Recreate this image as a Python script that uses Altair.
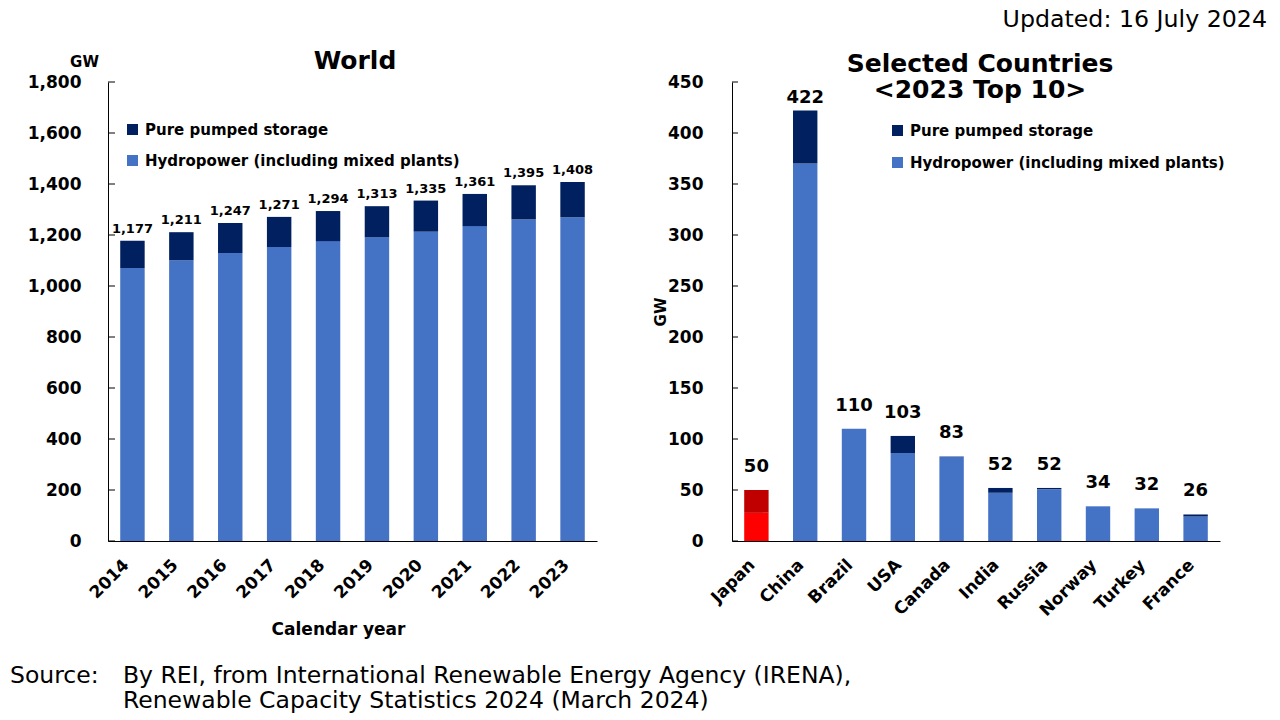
import altair as alt
import pandas as pd

FONT = "DejaVu Sans"

# ---------------- data ----------------
years = ["2014", "2015", "2016", "2017", "2018", "2019", "2020", "2021", "2022", "2023"]
world_hydro = [1071, 1101, 1129, 1153, 1176, 1191, 1213, 1235, 1261, 1270]
world_pumped = [106, 110, 118, 118, 118, 122, 122, 126, 134, 138]
world_total = [1177, 1211, 1247, 1271, 1294, 1313, 1335, 1361, 1395, 1408]

countries = ["Japan", "China", "Brazil", "USA", "Canada", "India", "Russia", "Norway", "Turkey", "France"]
country_hydro = [27.6, 370, 110, 86.3, 82.7, 47.3, 50.8, 34, 32, 24]
country_pumped = [22.4, 52, 0.03, 16.7, 0.3, 4.7, 1.2, 0, 0, 2]
country_total = [50, 422, 110, 103, 83, 52, 52, 34, 32, 26]

world_ticks = [0, 200, 400, 600, 800, 1000, 1200, 1400, 1600, 1800]
country_ticks = [0, 50, 100, 150, 200, 250, 300, 350, 400, 450]

PUMP = "Pure pumped storage"
HYDRO = "Hydropower (including mixed plants)"
JP_PUMP = "Japan pumped"
JP_HYDRO = "Japan hydro"

LEFT_TITLE = "World"
RIGHT_TITLE = ["Selected Countries", "<2023 Top 10>"]
UPDATED = "Updated: 16 July 2024"
SOURCE_HEAD = "Source:"
SOURCE_LINES = ["By REI, from International Renewable Energy Agency (IRENA),",
                "Renewable Capacity Statistics 2024 (March 2024)"]

# ---------------- tables ----------------
wrows = []
for y, h, p in zip(years, world_hydro, world_pumped):
    wrows.append({"year": y, "key": HYDRO, "ord": 0, "value": h})
    wrows.append({"year": y, "key": PUMP, "ord": 1, "value": p})
world_df = pd.DataFrame(wrows)
world_tot = pd.DataFrame({"year": years, "total": world_total})

crows = []
for c, h, p in zip(countries, country_hydro, country_pumped):
    crows.append({"country": c, "key": JP_HYDRO if c == "Japan" else HYDRO, "ord": 0, "value": h})
    crows.append({"country": c, "key": JP_PUMP if c == "Japan" else PUMP, "ord": 1, "value": p})
country_df = pd.DataFrame(crows)
country_tot = pd.DataFrame({"country": countries, "total": country_total})

one = pd.DataFrame({"_": [0]})

NAVY = "#002060"
BLUE = "#4472C4"

# ---------------- left panel ----------------
LW, H = 489, 459

wxaxis = alt.Axis(title="Calendar year", labelAngle=-45, labelAlign="right",
                  labelBaseline="middle", labelPadding=21, labelOffset=-6, labelFontSize=17,
                  titleFontSize=17, titleX=230, titleY=88, titleBaseline="middle",
                  titleAlign="center")
wxscale = alt.Scale(paddingInner=0.5, paddingOuter=0.25)
wyaxis = alt.Axis(values=world_ticks, labelExpr="format(datum.value, ',')",
                  labelFontSize=17, labelPadding=27,
                  title="GW", titleAngle=0, titleX=-24, titleY=-21,
                  titleAlign="center", titleBaseline="middle", titleFontSize=15)
wscale = alt.Scale(domain=[0, 1800], nice=False)

left_bars = alt.Chart(world_df).mark_bar().encode(
    x=alt.X("year:N", sort=years, scale=wxscale, axis=wxaxis),
    y=alt.Y("value:Q", stack="zero", scale=wscale, axis=wyaxis),
    color=alt.Color("key:N", scale=alt.Scale(domain=[PUMP, HYDRO], range=[NAVY, BLUE]),
                    legend=alt.Legend(title=None, orient="none", legendX=17, legendY=40,
                                      values=[PUMP, HYDRO], symbolType="square",
                                      symbolSize=121, symbolStrokeWidth=0,
                                      labelFont=FONT, labelFontSize=15, labelFontWeight="bold",
                                      labelColor="black", labelLimit=600, rowPadding=15,
                                      labelOffset=5, padding=0, direction="vertical")),
    order=alt.Order("ord:Q", sort="ascending"),
)

left_labels = alt.Chart(world_tot).mark_text(
    dy=-8, baseline="alphabetic", fontSize=13, fontWeight="bold", font=FONT, color="black"
).encode(
    x=alt.X("year:N", sort=years, scale=wxscale, axis=wxaxis),
    y=alt.Y("total:Q", scale=wscale, axis=wyaxis),
    text=alt.Text("total:Q", format=","),
)

left_ticks = alt.Chart(pd.DataFrame({"v": world_ticks})).mark_rule(color="black", strokeWidth=1).encode(
    y=alt.Y("v:Q", scale=wscale, axis=wyaxis), x=alt.value(0), x2=alt.value(7)
)

left_title = alt.Chart(one).mark_text(
    font=FONT, fontSize=25, fontWeight="bold", align="center", baseline="alphabetic", color="black"
).encode(x=alt.value(247), y=alt.value(-13), text=alt.value(LEFT_TITLE))

src_head = alt.Chart(one).mark_text(
    font=FONT, fontSize=23.5, align="left", baseline="alphabetic", color="black"
).encode(x=alt.value(-98), y=alt.value(601), text=alt.value(SOURCE_HEAD))

src_body = alt.Chart(one).mark_text(
    font=FONT, fontSize=23.5, align="left", baseline="alphabetic", color="black", lineHeight=25
).encode(x=alt.value(15), y=alt.value(601), text=alt.value(SOURCE_LINES))

left = alt.layer(left_bars, left_labels, left_ticks, left_title, src_head, src_body).properties(
    width=LW, height=H)

# ---------------- right panel ----------------
RW = 488
cscale = alt.Scale(domain=[0, 450], nice=False)
cxscale = alt.Scale(paddingInner=0.5, paddingOuter=0.25)
cxaxis = alt.Axis(title=None, labelAngle=-45, labelAlign="right",
                  labelBaseline="middle", labelPadding=21, labelOffset=-4, labelFontSize=17)
cyaxis = alt.Axis(values=country_ticks, labelExpr="format(datum.value, ',')",
                  labelFontSize=17, labelPadding=29,
                  title="GW", titleAngle=270, titleX=-72, titleY=229.5,
                  titleAlign="center", titleBaseline="middle", titleFontSize=15)

right_bars = alt.Chart(country_df).mark_bar().encode(
    x=alt.X("country:N", sort=countries, scale=cxscale, axis=cxaxis),
    y=alt.Y("value:Q", stack="zero", scale=cscale, axis=cyaxis),
    color=alt.Color("key:N",
                    scale=alt.Scale(domain=[PUMP, HYDRO, JP_PUMP, JP_HYDRO],
                                    range=[NAVY, BLUE, "#C00000", "#FF0000"]),
                    legend=alt.Legend(title=None, orient="none", legendX=158, legendY=41,
                                      values=[PUMP, HYDRO], symbolType="square",
                                      symbolSize=121, symbolStrokeWidth=0,
                                      labelFont=FONT, labelFontSize=15, labelFontWeight="bold",
                                      labelColor="black", labelLimit=600, rowPadding=16,
                                      labelOffset=5, padding=0, direction="vertical")),
    order=alt.Order("ord:Q", sort="ascending"),
)

right_labels = alt.Chart(country_tot).transform_filter(alt.datum.country != "China").mark_text(
    dy=-18, baseline="alphabetic", fontSize=18, fontWeight="bold", font=FONT, color="black"
).encode(
    x=alt.X("country:N", sort=countries, scale=cxscale, axis=cxaxis),
    y=alt.Y("total:Q", scale=cscale, axis=cyaxis),
    text=alt.Text("total:Q", format=","),
)
right_labels_china = alt.Chart(country_tot).transform_filter(alt.datum.country == "China").mark_text(
    dy=-8, baseline="alphabetic", fontSize=18, fontWeight="bold", font=FONT, color="black"
).encode(
    x=alt.X("country:N", sort=countries, scale=cxscale, axis=cxaxis),
    y=alt.Y("total:Q", scale=cscale, axis=cyaxis),
    text=alt.Text("total:Q", format=","),
)

right_ticks = alt.Chart(pd.DataFrame({"v": country_ticks})).mark_rule(color="black", strokeWidth=1).encode(
    y=alt.Y("v:Q", scale=cscale, axis=cyaxis), x=alt.value(0), x2=alt.value(6)
)

right_title = alt.Chart(one).mark_text(
    font=FONT, fontSize=25, fontWeight="bold", align="center", baseline="alphabetic",
    color="black", lineHeight=26
).encode(x=alt.value(248), y=alt.value(-10), text=alt.value(RIGHT_TITLE))

updated = alt.Chart(one).mark_text(
    font=FONT, fontSize=23.7, align="right", baseline="alphabetic", color="black"
).encode(x=alt.value(535), y=alt.value(-55), text=alt.value(UPDATED))

right = alt.layer(right_bars, right_labels, right_labels_china, right_ticks, right_title, updated).properties(
    width=RW, height=H)

chart = alt.hconcat(left, right, spacing=135, bounds="flush").resolve_scale(
    color="independent", x="independent", y="independent"
).properties(
    padding={"left": 2, "top": 0, "right": 0, "bottom": 0}, background="white"
).configure_view(stroke=None).configure_axis(
    domainColor="black", domainWidth=1, labelColor="black", titleColor="black", grid=False,
    ticks=False, tickSize=0, labelFont=FONT, titleFont=FONT,
    labelFontWeight="bold", titleFontWeight="bold"
)

chart.save("out.html", embed_options={"renderer": "svg", "actions": False})
